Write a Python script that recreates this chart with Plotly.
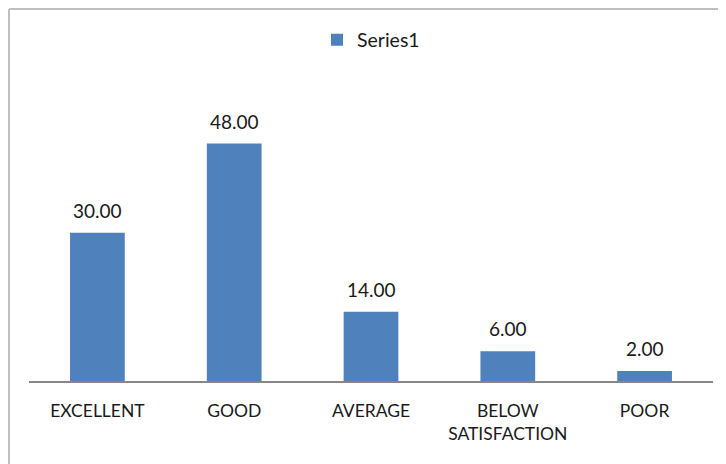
import plotly.graph_objects as go

categories = ["EXCELLENT", "GOOD", "AVERAGE", "BELOW<br>SATISFACTION", "POOR"]
values = [30, 48, 14, 6, 2]
series_name = "Series1"

# page body has an 8px margin, so the figure is sized/positioned to compensate
W, H = 718, 456
ml, mr, mt, mb = 21, 13, 101, 83
ymax = 55

fig = go.Figure()
fig.add_trace(go.Bar(
    x=categories, y=values, name=series_name,
    marker=dict(color="#4F81BD", line=dict(width=0)),
))

for c, v in zip(categories, values):
    fig.add_annotation(x=c, y=v, text=f"{v:.2f}", showarrow=False,
                       yanchor="bottom", yshift=9,
                       font=dict(family="Lato", size=19, color="#1a1a1a"))

pw = W - ml - mr
ph = H - mt - mb
# outer border (light gray) at left/top
x0 = (1 - ml) / pw
y0 = (H - mb - 1) / ph
fig.add_shape(type="line", xref="paper", yref="paper", x0=x0, x1=x0, y0=-0.5, y1=y0,
              line=dict(color="#BFBFBF", width=2))
fig.add_shape(type="line", xref="paper", yref="paper", x0=x0, x1=1.2, y0=y0, y1=y0,
              line=dict(color="#BFBFBF", width=2))

fig.update_layout(
    width=W, height=H,
    margin=dict(l=ml, r=mr, t=mt, b=mb, autoexpand=False),
    paper_bgcolor="white", plot_bgcolor="white",
    bargap=0.6,
    showlegend=True,
    legend=dict(orientation="h", x=0.5, xanchor="center", y=(H - mb - 32) / ph, yanchor="middle",
                font=dict(family="Lato", size=19.5, color="#1a1a1a"),
                itemwidth=30),
    font=dict(family="Lato", size=17, color="#1a1a1a"),
    xaxis=dict(showline=True, linecolor="#868686", linewidth=1.5, ticks="outside", ticklen=0,
               ticklabelstandoff=13, automargin=False,
               tickfont=dict(family="Lato", size=17.5, color="#1a1a1a"),
               showgrid=False, zeroline=False),
    yaxis=dict(range=[0, ymax], visible=False, showgrid=False, zeroline=False, automargin=False),
)

fig.write_html("out.html")
